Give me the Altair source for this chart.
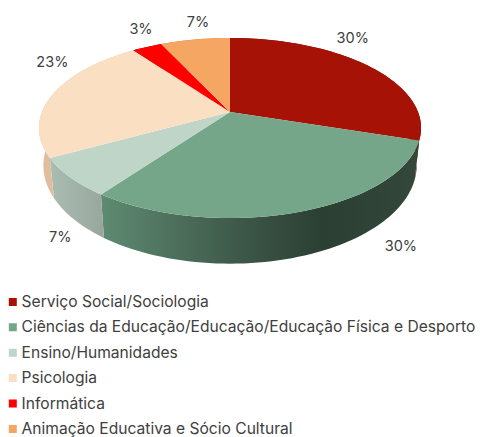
import math
import altair as alt
import pandas as pd

categories = ["Serviço Social/Sociologia",
              "Ciências da Educação/Educação/Educação Física e Desporto",
              "Ensino/Humanidades", "Psicologia", "Informática",
              "Animação Educativa e Sócio Cultural"]
values = [30, 30, 7, 23, 3, 7]
top_colors = ["#A61205", "#76A689", "#BFD5C8", "#FBDFC3", "#FF0000", "#F5A662"]
side_stops = [
    ["#6B0B03", "#6B0B03"],
    ["#5F8B72", "#3C5647", "#2B3F33", "#33483B"],
    ["#AABDB2", "#97A79D"],
    ["#E0BD9E", "#E0BD9E"],
    ["#A50000", "#A50000"],
    ["#B87C48", "#B87C48"],
]

# Perspective of the tilted disc (page pixels)
CX, CY, A, B, K = 230.0, 112.0, 188.0, 87.2, 0.1777
SX, SY_SCALE, SY_OFF = 0.977, 1.09, 26.0
# Label offsets from the rim point at each slice's middle angle
LABEL_NUDGE = [(-15, -27), (101, 35), (-10, 61), (-1, -31), (-6, -17), (3, -16)]
FONT = "Inter"
TEXT = "#404040"


def rim(pct):
    t = math.radians(pct * 3.6)
    u, v = math.sin(t), math.cos(t)
    d = 1 + K * v
    return CX + A * u / d, CY - B * v / d


def lower(p):
    return CX + SX * (p[0] - CX), SY_SCALE * p[1] + SY_OFF


def arc(p0, p1):
    n = max(2, int((p1 - p0) * 2))
    return [rim(p0 + (p1 - p0) * i / n) for i in range(n + 1)]


top_rows, side_layers, label_rows = [], [], []
x_s = alt.Scale(domain=[8, 478], range=[0, 470])
y_s = alt.Scale(domain=[8, 437], range=[0, 429])
start = 0.0
for i, (cat, val) in enumerate(zip(categories, values)):
    pts = arc(start, start + val)
    outline = [(CX, CY)] + pts
    top_rows += [{"c": cat, "x": x, "y": y, "pt": j} for j, (x, y) in enumerate(outline)]
    wall = pts + [lower(p) for p in reversed(pts)]
    stops = side_stops[i]
    if i == 1:
        offs = [0, 0.45, 0.7, 1]
    else:
        offs = [k / (len(stops) - 1) for k in range(len(stops))]
    grad = alt.Gradient(gradient="linear", x1=0, x2=1, y1=0, y2=0,
                        stops=[alt.GradientStop(offset=o, color=c) for o, c in zip(offs, stops)])
    wall_df = pd.DataFrame([{"x": x, "y": y, "pt": j} for j, (x, y) in enumerate(wall)])
    side_layers.append(
        alt.Chart(wall_df).mark_line(fill=grad, strokeWidth=0).encode(
            x=alt.X("x:Q", scale=x_s, axis=None),
            y=alt.Y("y:Q", scale=y_s, axis=None),
            order=alt.Order("pt:Q"))
    )
    mx, my = rim(start + val / 2)
    label_rows.append({"t": f"{val}%", "x": mx + LABEL_NUDGE[i][0], "y": my + LABEL_NUDGE[i][1]})
    start += val

top = alt.Chart(pd.DataFrame(top_rows)).mark_line(strokeWidth=0).encode(
    x=alt.X("x:Q", scale=x_s, axis=None),
    y=alt.Y("y:Q", scale=y_s, axis=None),
    order=alt.Order("pt:Q"),
    fill=alt.Fill("c:N", scale=alt.Scale(domain=categories, range=top_colors),
                  legend=alt.Legend(title=None, orient="none", legendX=-3, legendY=284.2,
                                    symbolType="square", symbolSize=64, symbolStrokeWidth=0,
                                    labelFont=FONT, labelFontSize=15.6, labelColor=TEXT,
                                    labelLimit=480, labelOffset=1, rowPadding=5.4,
                                    clipHeight=19.4, padding=0)),
)
labels = alt.Chart(pd.DataFrame(label_rows)).mark_text(font=FONT, fontSize=14.5, color=TEXT).encode(
    x=alt.X("x:Q", scale=x_s, axis=None),
    y=alt.Y("y:Q", scale=y_s, axis=None),
    text="t:N",
)

chart = alt.layer(*side_layers, top, labels).properties(
    width=470, height=429, padding=0, autosize=alt.AutoSizeParams(type="none"),
    background="white",
).configure_view(strokeWidth=0)
chart.save("out.html", embed_options={"renderer": "svg", "actions": False})
